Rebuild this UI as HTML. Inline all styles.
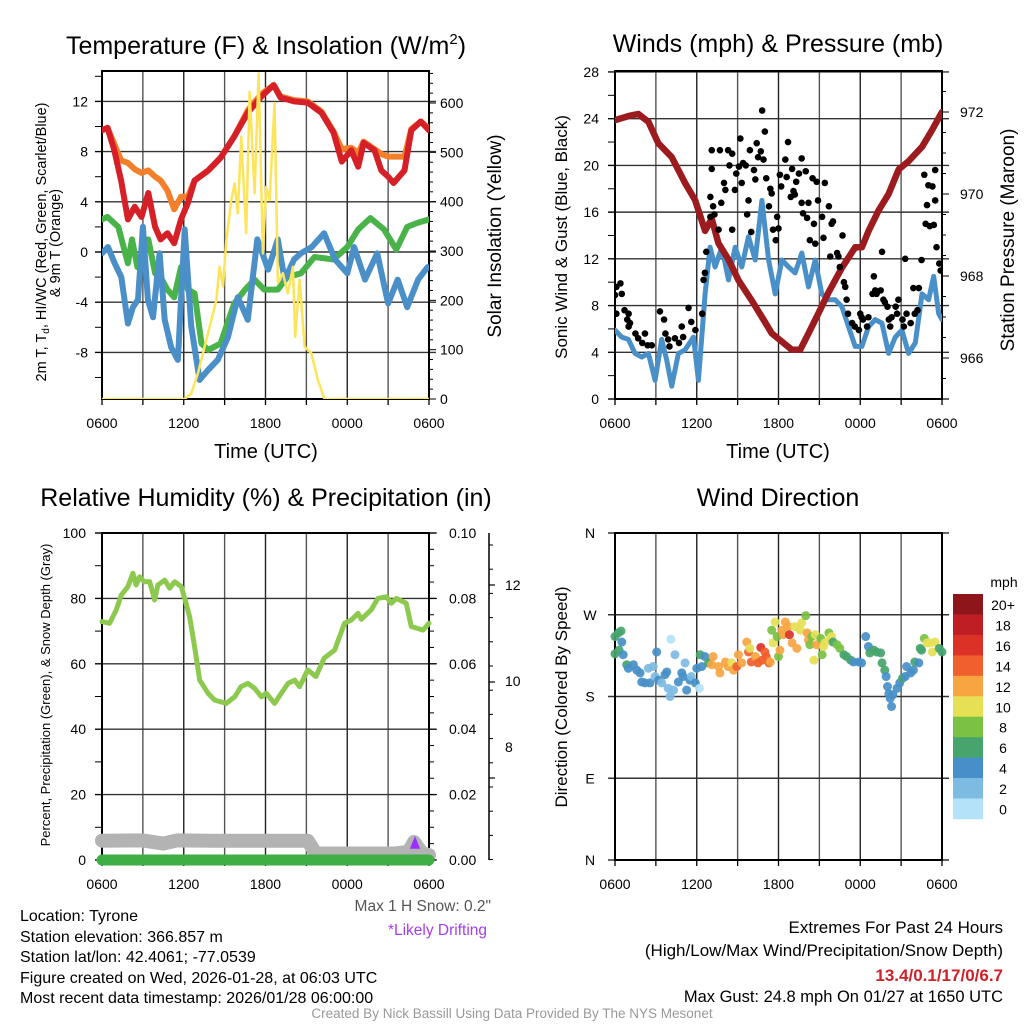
<!DOCTYPE html>
<html><head><meta charset="utf-8"><style>
html,body{margin:0;padding:0;background:#fff;}
svg{display:block;font-family:"Liberation Sans",sans-serif;}
</style></head><body>
<svg id="chart" width="1024" height="1024" viewBox="0 0 1024 1024">
<defs>
<clipPath id="c1"><rect x="102" y="71" width="327" height="328"/></clipPath>
<clipPath id="c2"><rect x="615" y="71" width="327" height="328"/></clipPath>
<clipPath id="c3"><rect x="92" y="533" width="345" height="340"/></clipPath>
<clipPath id="c4"><rect x="609" y="533" width="339" height="328"/></clipPath>
</defs>
<!-- titles -->
<text x="266" y="54" font-size="25" text-anchor="middle">Temperature (F) &amp; Insolation (W/m<tspan dy="-10" font-size="15">2</tspan><tspan dy="10">)</tspan></text>
<text x="778" y="52" font-size="25" text-anchor="middle">Winds (mph) &amp; Pressure (mb)</text>
<text x="266" y="506" font-size="25" text-anchor="middle">Relative Humidity (%) &amp; Precipitation (in)</text>
<text x="778" y="506" font-size="25" text-anchor="middle">Wind Direction</text>
<!-- axis titles -->
<text x="266" y="458" font-size="20" text-anchor="middle">Time (UTC)</text>
<text x="778" y="458" font-size="20" text-anchor="middle">Time (UTC)</text>
<text transform="translate(46,242) rotate(-90)" font-size="14.5" text-anchor="middle">2m T, T<tspan dy="3" font-size="10">d</tspan><tspan dy="-3">, HI/WC (Red, Green, Scarlet/Blue)</tspan></text>
<text transform="translate(60,243) rotate(-90)" font-size="14.5" text-anchor="middle">&amp; 9m T (Orange)</text>
<text transform="translate(501,236) rotate(-90)" font-size="19" text-anchor="middle">Solar Insolation (Yellow)</text>
<text transform="translate(567,237) rotate(-90)" font-size="17" text-anchor="middle">Sonic Wind &amp; Gust (Blue, Black)</text>
<text transform="translate(1014,240) rotate(-90)" font-size="19" text-anchor="middle">Station Pressure (Maroon)</text>
<text transform="translate(50,695) rotate(-90)" font-size="13" text-anchor="middle">Percent, Precipitation (Green), &amp; Snow Depth (Gray)</text>
<text transform="translate(567,697) rotate(-90)" font-size="17" text-anchor="middle">Direction (Colored By Speed)</text>
<!-- bottom info -->
<g font-size="16">
<text x="20" y="921">Location: Tyrone</text>
<text x="20" y="942">Station elevation: 366.857 m</text>
<text x="20" y="962">Station lat/lon: 42.4061; -77.0539</text>
<text x="20" y="983">Figure created on Wed, 2026-01-28, at 06:03 UTC</text>
<text x="20" y="1003">Most recent data timestamp: 2026/01/28 06:00:00</text>
</g>
<text x="491" y="911" font-size="15.5" fill="#555" text-anchor="end">Max 1 H Snow: 0.2"</text>
<text x="487" y="935" font-size="15.5" fill="#a43df0" text-anchor="end">*Likely Drifting</text>
<g font-size="17" text-anchor="end">
<text x="1003" y="933">Extremes For Past 24 Hours</text>
<text x="1003" y="956">(High/Low/Max Wind/Precipitation/Snow Depth)</text>
<text x="1003" y="981" fill="#cc2229" font-weight="bold">13.4/0.1/17/0/6.7</text>
<text x="1003" y="1002" font-size="16.5">Max Gust: 24.8 mph On 01/27 at 1650 UTC</text>
</g>
<text x="512" y="1018" font-size="13.5" fill="#999" text-anchor="middle">Created By Nick Bassill Using Data Provided By The NYS Mesonet</text>
<text x="1004" y="587" font-size="14" text-anchor="middle">mph</text>
</svg>
<script>
// ---------- data ----------
const redHr=[0,0.4,0.9,1.4,1.9,2.4,2.9,3.4,3.9,4.3,4.8,5.3,5.8,6.3,6.8,7.8,8.7,9.7,10.7,11.7,12.6,13.1,14.1,15.1,16.1,17.0,17.6,18.3,18.8,19.2,20.0,20.5,21.0,21.4,22.2,22.7,23.4,24];
const redVal=[9.7,9.9,8.1,5.7,2.6,3.6,2.8,4.7,2.0,1.0,1.5,0.7,2.6,3.9,5.7,6.5,7.5,9.2,11.1,12.4,13.3,12.3,12.0,11.9,11.1,9.5,7.2,8.1,6.8,8.7,8.1,6.5,6.0,5.5,6.5,9.7,10.4,9.7];
const orangeVal=[9.7,9.9,8.6,7.3,7.1,6.6,6.3,6.5,6.0,5.7,4.9,3.4,4.4,4.4,5.7,6.5,7.5,9.2,11.3,12.6,13.3,12.4,12.1,12.0,11.2,9.6,8.2,8.3,7.9,8.8,8.2,7.8,7.6,7.6,7.6,9.8,10.4,9.8];
const greenHr=[0,0.4,1.2,1.9,2.2,2.6,3.4,3.9,4.4,4.8,5.3,5.8,6.3,6.8,7.3,7.8,8.7,9.7,10.5,11.2,11.9,12.9,13.6,14.6,15.6,17.0,18.0,18.8,19.7,20.7,21.6,22.4,23.1,24];
const greenVal=[2.6,2.8,2.0,-0.9,1.0,-1.2,1.0,-1.7,-2.2,-3.0,-3.6,-1.2,-3.0,-3.3,-7.3,-7.8,-7.3,-4.1,-3.0,-2.2,-3.0,-3.0,-2.0,-1.7,-0.4,-0.6,0.4,1.8,2.7,1.8,0.2,2.0,2.3,2.6];
const blueHr=[0,0.44,0.93,1.42,1.9,2.27,2.64,3.0,3.37,3.74,4.23,4.6,5.08,5.57,6.07,6.55,7.16,7.78,8.5,9.24,9.97,10.7,11.4,12.2,12.9,13.4,14.1,14.6,15.4,16.3,17.1,18.0,18.5,19.3,20.2,21.0,21.7,22.4,23.2,23.9];
const blueVal=[-0.1,0.4,-0.9,-2.0,-5.7,-4.4,-3.8,2.0,-3.8,-5.2,-0.1,-5.4,-7.6,-8.6,1.8,-5.9,-10.2,-9.4,-8.6,-6.8,-3.6,-5.4,1.0,-1.4,1.0,-2.2,-0.6,-0.1,0.4,1.5,-0.6,-1.7,0.4,-2.2,-0.1,-4.1,-2.2,-4.4,-2.2,-1.2];
const solarHr=[0,6.06,6.55,7.04,7.53,8.02,8.39,8.63,8.88,9.12,9.49,9.73,9.97,10.22,10.58,10.83,11.2,11.49,11.81,12.05,12.3,12.66,12.91,13.28,13.64,14.01,14.18,14.5,14.87,15.36,15.84,16.33,24];
const solarVal=[0,0,11,52,106,160,200,268,228,322,403,437,376,532,336,623,417,660,295,430,403,600,235,255,214,268,126,242,106,93,39,0,0];
const tempTicks=[-8,-4,0,4,8,12];
const solarTicks=[0,100,200,300,400,500,600];
const timeLabels=['0600','1200','1800','0000','0600'];

const presHr=[0,0.98,1.71,2.45,3.18,4.16,5.14,5.88,6.61,7.1,7.59,8.33,9.06,10.04,10.78,11.51,12.25,12.98,13.59,14.2,14.94,15.67,16.65,17.63,18.12,18.61,19.35,20.08,20.82,21.55,22.53,23.27,24];
const presVal=[971.8,971.9,971.95,971.76,971.24,970.9,970.27,969.85,969.1,969.4,968.8,968.4,967.9,967.4,967.0,966.6,966.4,966.2,966.2,966.6,967.1,967.6,968.2,968.7,968.7,969.1,969.6,970.0,970.6,970.8,971.15,971.56,972.0];
const windHr=[0,0.49,0.98,1.47,1.96,2.45,2.94,3.43,3.8,4.16,4.65,5.14,5.76,6.12,6.61,6.98,7.35,7.84,8.33,8.82,9.31,9.8,10.29,10.78,11.27,11.76,12.25,12.74,13.22,13.71,14.2,14.69,15.18,15.67,16.16,16.65,17.14,17.63,18.12,18.61,19.1,19.59,20.08,20.57,21.06,21.55,22.04,22.53,23.02,23.39,23.76,24];
const windVal=[5.9,5.3,5.1,3.9,3.6,3.9,1.6,5.1,3.3,1.1,3.9,4.2,5.3,1.6,9.0,13.0,11.3,13.0,10.2,13.0,11.3,13.9,11.9,17.0,11.9,9.0,11.9,11.3,10.8,12.5,9.6,11.9,9.0,8.5,8.5,7.9,6.2,4.5,4.5,6.2,6.8,6.5,3.9,5.3,5.9,3.9,4.8,9.0,8.5,10.5,7.3,6.8];
const gustHr=[0.0,0.1,0.4,0.5,0.1,0.7,1.0,0.9,1.1,1.0,1.5,1.7,2.2,2.0,2.4,2.7,3.3,3.6,3.7,3.9,4.0,4.4,4.7,4.9,5.0,5.4,5.6,5.9,6.4,6.5,6.6,6.7,7.0,7.0,7.1,7.1,7.2,7.3,7.7,7.8,7.6,8.0,8.1,8.3,8.4,8.6,8.6,8.8,8.9,9.1,9.2,9.3,9.4,9.6,9.7,9.8,9.9,10.0,10.2,10.3,10.4,10.5,10.7,10.8,10.9,11.0,11.1,11.3,11.4,11.5,11.6,11.8,11.9,12.0,12.1,12.2,12.5,12.6,12.7,12.9,13.0,13.1,13.2,13.3,13.5,13.7,13.7,13.8,14.0,14.1,14.2,14.3,14.5,14.6,14.7,14.8,14.9,15.2,15.3,15.4,15.7,15.8,15.9,16.0,16.3,16.4,16.5,16.7,16.8,16.9,17.0,17.1,17.4,17.6,17.9,18.0,18.1,18.2,18.5,18.6,18.9,19.0,19.1,19.2,19.5,19.6,19.7,19.8,20.0,20.1,20.2,20.3,20.6,20.7,20.8,21.1,21.2,21.3,21.4,21.7,21.9,22.0,22.2,22.3,22.5,22.7,22.8,22.9,23.0,23.1,23.3,23.4,23.5,23.5,23.6,23.8,23.9,24.0];
const gustMph=[8.9,9.6,9.9,9.0,7.3,7.6,7.3,6.8,6.5,6.2,5.6,5.2,5.6,4.8,4.6,4.6,7.5,6.8,5.6,5.1,4.5,5.2,4.8,6.2,5.3,7.8,6.6,5.9,7.3,10.2,10.8,12.6,15.6,17.3,19.7,21.3,16.5,15.8,21.3,16.8,14.5,18.5,17.9,21.3,20.0,14.5,21.0,17.9,19.3,19.9,22.3,18.5,20.2,20.0,15.8,17.0,21.3,14.3,19.6,18.8,21.9,20.7,21.2,24.7,20.5,22.9,18.9,16.5,18.0,17.6,14.5,13.6,15.6,14.6,19.2,18.2,20.5,19.0,22.0,17.3,19.7,17.8,17.5,18.6,19.3,20.6,16.8,15.9,19.5,15.5,16.8,13.6,18.9,15.0,13.3,18.6,17.0,15.6,13.8,18.5,16.5,12.2,15.0,15.2,12.5,12.2,11.3,14.0,10.0,9.6,8.5,7.3,6.5,6.2,5.9,7.3,7.0,6.8,6.2,7.0,9.0,10.5,9.3,9.0,9.3,12.6,8.5,8.3,7.9,6.8,6.2,7.0,7.9,7.3,8.5,6.8,6.2,12.0,7.3,6.5,9.5,7.3,7.6,9.5,11.9,19.2,15.0,16.6,18.3,14.8,18.2,14.9,19.6,17.0,13.0,11.6,11.0,11.0];
const windTicks=[0,4,8,12,16,20,24,28];
const presTicks=[966,968,970,972];

const rhHr=[0,0.56,1.05,1.42,1.9,2.27,2.5,2.76,3.1,3.5,3.86,4.1,4.6,4.97,5.33,5.82,6.07,6.43,6.8,7.17,7.78,8.27,9.12,9.74,10.2,10.7,11.2,11.7,12.06,12.67,13.16,13.65,14.14,14.5,15.1,15.7,16.3,17.07,17.8,18.3,18.79,19.03,19.76,20.25,20.87,21.23,21.6,22.33,22.7,23.56,24];
const rhVal=[72.9,72.4,76.5,81.0,83.6,87.7,84.1,86.6,85.1,85.1,79.5,84.1,85.6,83.1,85.1,83.6,80.0,74.4,65.2,55.0,51.0,48.9,47.9,49.9,53.0,54.0,52.5,49.9,51.0,47.9,51.0,54.0,55.0,53.0,58.1,56.1,61.7,64.2,72.4,73.4,75.4,73.6,76.5,80.0,80.5,78.5,80.0,78.5,71.4,70.3,72.4];
const snowHr=[0,3,4.5,5.5,8,15.1,15.7,21.5,22.5,22.9,23.5,24];
const snowVal=[5.9,6.0,5.0,6.0,5.9,5.9,2.0,2.0,2.5,5.5,2.0,1.5];
const precipHr=[0,24];
const precipVal=[0,0];
const rhTicks=[0,20,40,60,80,100];
const precipTicks=['0.00','0.02','0.04','0.06','0.08','0.10'];
const snowAxisLabels=['12','10','8'];

const dirHr=[0,0,0.24,0.44,0.5,0.3,0.6,0.86,0.98,1.35,1.6,1.84,1.96,2.2,2.45,2.57,2.8,2.94,3.06,3.2,3.43,3.67,3.8,3.9,4.04,4.1,4.3,4.4,4.65,4.9,5.0,5.14,5.26,5.5,5.6,5.9,6.0,6.2,6.25,6.37,6.6,6.86,7.1,7.2,7.6,7.7,8.1,8.3,8.57,8.7,8.94,9.06,9.3,9.67,9.8,9.9,10.0,10.3,10.5,10.7,10.8,11.0,11.1,11.3,11.4,11.5,11.6,11.75,11.9,12.0,12.1,12.25,12.35,12.5,12.7,12.8,13.0,13.2,13.35,13.6,13.7,14.0,14.1,14.2,14.3,14.45,14.6,14.7,14.8,15.1,15.2,15.3,15.4,15.7,15.8,15.9,16.0,16.3,16.5,16.8,17.0,17.3,17.5,17.9,18.1,18.4,18.6,18.7,19.0,19.2,19.5,19.6,19.8,19.9,20.0,20.1,20.2,20.3,20.4,20.7,20.9,21.1,21.3,21.4,21.7,21.9,22.0,22.3,22.4,22.5,22.7,22.9,23.1,23.3,23.5,23.8,24.0];
const dirDeg=[227,246,250,252,240,231,226,215,211,215,209,206,196,195,211,195,213,202,229,198,195,204,207,189,180,243,187,226,196,206,202,217,187,198,202,195,211,189,226,213,224,217,215,224,213,206,218,213,217,209,213,226,217,240,229,233,218,224,217,234,220,229,224,217,218,253,239,262,246,224,231,253,248,262,257,248,239,257,233,253,261,269,250,242,237,246,220,248,237,244,226,235,239,250,244,246,240,237,233,226,224,220,218,218,217,246,235,228,231,229,228,217,209,202,191,183,178,169,182,189,195,200,202,213,206,209,218,217,233,231,244,239,239,229,240,233,229];
const dirSpd=[6,6,7,7,4,6,4,6,4,4,4,4,4,4,2,4,2,2,4,4,2,4,4,2,2,1,2,2,4,4,4,2,4,4,2,4,4,1,6,4,4,6,12,12,12,12,12,12,10,12,14,12,12,12,14,10,14,12,14,16,14,14,14,14,12,8,10,10,8,8,12,12,12,12,12,16,12,10,12,10,10,8,12,12,8,8,10,10,12,8,8,10,10,8,10,10,6,8,8,6,6,6,4,4,4,4,4,6,6,6,6,6,6,4,4,4,4,4,4,4,4,6,4,4,4,4,6,4,6,6,8,10,10,10,10,6,6];
const dirLabels=['N','E','S','W','N'];
const cbLabels=['20+','18','16','14','12','10','8','6','4','2','0'];
const cbColors=['#8e1519','#be1e24','#dc3127','#f0602c','#f7a540','#e6e055','#7bc144','#46a46c','#478fc8','#7ebbe3','#b4e3f9'];

// ---------- scales ----------
const HPX=327/24;
const x1=h=>102+h*HPX, x2=h=>615+h*HPX;
const yT=v=>252-v*12.55, yS=w=>399-w*0.4933;
const yW=v=>399-v*11.68, yP=p=>112+(972-p)*41;
const yR=v=>860-v*3.27, yPr=v=>860-v*3270;
const yD=d=>860-d*0.9083;

const NS='http://www.w3.org/2000/svg';
const svg=document.getElementById('chart');
function mk(tag,attrs,parent){const e=document.createElementNS(NS,tag);for(const k in attrs)e.setAttribute(k,attrs[k]);(parent||svg).appendChild(e);return e;}
function pathD(xs,ys,fx,fy){return xs.map((h,i)=>(i?'L':'M')+fx(h).toFixed(1)+','+fy(ys[i]).toFixed(1)).join('');}
function line(g,x,y1,x2_,y2,c,w){const l=mk('line',{x1:x,y1:y1,x2:x2_,y2:y2,stroke:c,'stroke-width':w},g);return l;}
function txt(g,x,y,s,anchor,size){const t=mk('text',{x:x,y:y,'font-size':size||14,'text-anchor':anchor||'middle'},g);t.textContent=s;return t;}

function panelBase(name,X0,Y0,Y1,hGridYs){
  const g=mk('g',{});
  
  
  for(let h=0;h<=24;h+=3){const x=X0+h*HPX;line(g,x,Y0,x,Y1,h%6?'#555':'#222',1.4);line(g,x,Y1,x,Y1+6,'#000',1.3);}
  hGridYs.forEach(y=>line(g,X0-7,y,X0+327+7,y,'#333',1.4));
  mk('rect',{x:X0,y:Y0,width:327,height:Y1-Y0,fill:'none',stroke:'#000','stroke-width':2},g);
  const lg=mk('g',{});
  
  
  timeLabels.forEach((s,i)=>txt(lg,X0+i*6*HPX,Y1+29,s));
  return g;
}

// ===== Panel 1 =====
panelBase('temperature',102,71,399,tempTicks.map(yT));
{
  const g=mk('g',{});
  
  
  for(let v=-10;v<=14;v+=2)line(g,95,yT(v),102,yT(v),'#000',1);
  tempTicks.forEach(v=>txt(g,88,yT(v)+5,String(v),'end'));
  const g2=mk('g',{});
  
  
  for(let w=0;w<=660;w+=20)line(g2,429,yS(w),w%100?433:436,yS(w),'#000',1);
  solarTicks.forEach(w=>txt(g2,440,yS(w)+5,String(w),'start'));
  const cg=mk('g',{'clip-path':'url(#c1)',fill:'none','stroke-linejoin':'round','stroke-linecap':'round'});
  const o=mk('path',{d:pathD(redHr,orangeVal,x1,yT),stroke:'#f47f2a','stroke-width':6},cg);
  
  
  const r=mk('path',{d:pathD(redHr,redVal,x1,yT),stroke:'#d62027','stroke-width':6},cg);
  
  
  const gr=mk('path',{d:pathD(greenHr,greenVal,x1,yT),stroke:'#49b34a','stroke-width':6},cg);
  
  
  const b=mk('path',{d:pathD(blueHr,blueVal,x1,yT),stroke:'#4a8fc8','stroke-width':6},cg);
  
  
  const y=mk('path',{d:pathD(solarHr,solarVal,x1,yS),stroke:'#fde45a','stroke-width':2.5},cg);
  
  
}

// ===== Panel 2 =====
panelBase('wind',615,71,399,windTicks.map(yW));
{
  const g=mk('g',{});
  
  
  for(let v=0;v<=28;v+=2)line(g,608,yW(v),615,yW(v),'#000',1);
  windTicks.forEach(v=>txt(g,599,yW(v)+5,String(v),'end'));
  const g2=mk('g',{});
  
  
  for(let p=965.5;p<=972.6;p+=0.5)line(g2,942,yP(p),p%2?946:949,yP(p),'#000',1);
  presTicks.forEach(p=>txt(g2,960,yP(p)+5,String(p),'start'));
  const cg=mk('g',{'clip-path':'url(#c2)','stroke-linejoin':'round','stroke-linecap':'round'});
  const w=mk('path',{d:pathD(windHr,windVal,x2,yW),stroke:'#4a90c8','stroke-width':5,fill:'none'},cg);
  
  
  const pr=mk('path',{d:pathD(presHr,presVal,x2,yP),stroke:'#9b1b1e','stroke-width':6.5,fill:'none'},cg);
  
  
  const gg=mk('g',{},cg);
  
  
  gustHr.forEach((h,i)=>{
    const c=mk('circle',{cx:x2(h),cy:yW(gustMph[i]),r:3.3,fill:'#000'},gg);
    
    
  });
}

// ===== Panel 3 =====
panelBase('humidity',102,533,860,rhTicks.map(yR));
{
  const g=mk('g',{});
  
  
  for(let v=0;v<=100;v+=10)line(g,95,yR(v),102,yR(v),'#000',1);
  rhTicks.forEach(v=>txt(g,86,yR(v)+5,String(v),'end'));
  const g2=mk('g',{});
  
  
  for(let i=0;i<=20;i++){const v=i*0.005;line(g2,429,yPr(v),i%4?434:437,yPr(v),'#000',1);}
  precipTicks.forEach(s=>txt(g2,449,yPr(parseFloat(s))+5,s,'start'));
  const g3=mk('g',{});
  
  
  line(g3,489,533,489,860,'#000',1.5);
  for(let y=545;y<860;y+=24.2)line(g3,489,y,493,y,'#000',1);
  [585,682,778].forEach(y=>line(g3,489,y,495,y,'#000',1.2));
  const sy=[590,686,752];
  snowAxisLabels.forEach((s,i)=>txt(g3,505,sy[i],s,'start'));
  const cg=mk('g',{'clip-path':'url(#c3)','stroke-linejoin':'round','stroke-linecap':'round',fill:'none'});
  const sn=mk('path',{d:pathD(snowHr,snowVal,x1,yR),stroke:'#b3b3b3','stroke-width':14},cg);
  
  
  const pc=mk('path',{d:pathD(precipHr,precipVal,x1,yPr),stroke:'#3eae45','stroke-width':11},cg);
  
  
  const rh=mk('path',{d:pathD(rhHr,rhVal,x1,yR),stroke:'#8dc94f','stroke-width':5},cg);
  
  
  const mark=mk('path',{d:'M411,848 L415,838 L419,848 Z',fill:'#9b30ff',stroke:'#9b30ff','stroke-width':1.5});
  
  
}

// ===== Panel 4 =====
panelBase('direction',615,533,860,[0,90,180,270,360].map(yD));
{
  const g=mk('g',{});
  
  
  dirLabels.forEach((s,i)=>txt(g,590,yD(i*90)+5,s,'middle'));
  const cg=mk('g',{'clip-path':'url(#c4)'});
  
  
  dirHr.forEach((h,i)=>{
    const idx=Math.min(10,Math.floor(dirSpd[i]/2));
    const c=mk('circle',{cx:x2(h),cy:yD(dirDeg[i]),r:4.5,fill:cbColors[10-idx],'fill-opacity':0.92},cg);
    
    
  });
  const cb=mk('g',{});
  
  
  const bh=225/11;
  cbColors.forEach((c,i)=>{
    const r=mk('rect',{x:953,y:594+i*bh,width:30,height:bh+0.3,fill:c},cb);
    
    
  });
  cbLabels.forEach((s,i)=>txt(cb,1003,610+i*bh,s,'middle'));
}
</script>
</body></html>
